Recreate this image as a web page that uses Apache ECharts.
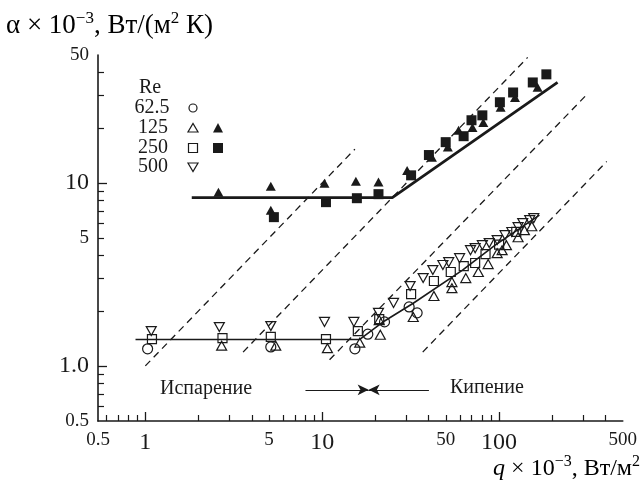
<!DOCTYPE html>
<html>
<head>
<meta charset="utf-8">
<script src="https://cdn.jsdelivr.net/npm/echarts@6/dist/echarts.min.js"></script>
<style>
  html, body { margin: 0; padding: 0; background: #fff; }
  #chart { width: 640px; height: 488px; }
</style>
</head>
<body>
<div id="chart"></div>
<script>
// axes
const xMin = 0.54, xMax = 500;
const yMin = 0.5, yMax = 50;
const xLabelValues = [0.54, 1, 5, 10, 50, 100, 500];
const xLabelTexts = ['0.5', '1', '5', '10', '50', '100', '500'];
const xMajorTicks = [1, 10, 100];
const xMinorTicks = [0.6, 0.7, 0.8, 0.9, 2, 3, 4, 5, 6, 7, 8, 9, 20, 30, 40, 50, 60, 70, 80, 90, 200, 300, 400];
const yLabelValues = [0.5, 1, 5, 10, 50];
const yLabelTexts = ['0.5', '1.0', '5', '10', '50'];
const yMajorTicks = [1, 10];
const yMinorTicks = [0.6, 0.7, 0.8, 0.9, 2, 3, 4, 5, 6, 7, 8, 9, 20, 30, 40];
const bigLabels = ['1', '10', '100', '1.0'];

// measured points  [q, alpha]
const re62Open = [[1.03, 1.24], [5.12, 1.27], [15.3, 1.24], [18.1, 1.49], [22.5, 1.74], [31.0, 2.10], [34.4, 1.95]];
const re125Open = [[2.70, 1.29], [5.46, 1.29], [10.7, 1.25], [16.3, 1.34], [21.0, 1.78], [21.3, 1.48], [32.7, 1.85],
  [42.8, 2.41], [54.1, 2.87], [54.1, 2.66], [64.8, 3.02], [76.3, 3.26], [86.7, 3.60], [97.5, 4.13], [104, 4.29],
  [110, 4.57], [128, 5.05], [139, 5.52], [153, 5.8]];
const re125Filled = [[2.59, 8.9], [5.12, 9.6], [5.12, 7.1], [10.3, 9.96], [15.5, 10.2], [20.8, 10.1], [30.2, 11.7],
  [41.7, 13.8], [51.3, 15.7], [59, 19.4], [70.7, 20.1], [81.4, 21.4], [102, 25.9], [123, 29.3], [165, 33.3]];
const re250Open = [[1.09, 1.40], [2.73, 1.42], [5.12, 1.44], [10.5, 1.40], [15.9, 1.55], [21.0, 1.80], [31.8, 2.47],
  [42.8, 2.91], [53.3, 3.26], [63.1, 3.51], [73.2, 3.65], [83.8, 4.08], [100, 4.6], [125, 5.4]];
const re250Filled = [[5.33, 6.5], [10.5, 7.85], [15.7, 8.25], [20.8, 8.68], [31.8, 11.0], [40.1, 14.2], [49.9, 16.7],
  [63, 18.0], [69.8, 22.0], [80.4, 23.4], [101, 27.6], [120, 31.2], [155, 35.4], [185, 39.2]];
const re500 = [[1.08, 1.55], [2.62, 1.63], [5.12, 1.65], [10.3, 1.74], [15.1, 1.74], [20.8, 1.95], [25.3, 2.21],
  [31.4, 2.73], [37.2, 3.02], [42.2, 3.34], [48.1, 3.56], [51.9, 3.69], [59.8, 3.88], [68.9, 4.29], [73.2, 4.40],
  [80.4, 4.57], [87.9, 4.69], [97.5, 4.87], [108, 5.18], [118, 5.39], [128, 5.73], [136, 6.03], [149, 6.26], [157, 6.42]];

// fitted lines
const upperFit = [[1.83, 8.3], [24.9, 8.3], [214, 35.4]];
const lowerFit = [[0.88, 1.395], [16.3, 1.395], [22.5, 1.76], [32.7, 2.2], [62.1, 3.34], [95, 4.57], [169, 6.67]];
// dashed lines alpha ~ q
const dash1 = [[1.0, 1.0], [15.3, 15.3]];
const dash2 = [[3.57, 1.19], [145, 48.5]];
const dash3 = [[11, 1.08], [306, 29.7]];
const dash4 = [[37, 1.19], [406, 13.1]];
// evaporation / boiling arrows
const arrowY = 0.74;
const arrowMeet = 18.3;
const arrowFrom = [8.04, 40.1];

const ink = '#1a1a1a';
const serif = 'Liberation Serif';

function nearestText(v, vals, texts) {
  let best = 0;
  for (let i = 1; i < vals.length; i++) {
    if (Math.abs(Math.log(vals[i] / v)) < Math.abs(Math.log(vals[best] / v))) best = i;
  }
  return texts[best];
}

const labelRich = {
  b: { fontFamily: serif, fontSize: 24, color: ink },
  s: { fontFamily: serif, fontSize: 19, color: ink }
};

function openScatter(name, data, symbol, size, rotate) {
  return {
    name: name, type: 'scatter', data: data, symbol: symbol, symbolSize: size,
    symbolRotate: rotate || 0,
    itemStyle: { color: 'rgba(0,0,0,0)', borderColor: ink, borderWidth: 1.2, opacity: 1 },
    z: 5
  };
}
function filledScatter(name, data, symbol, size) {
  return {
    name: name, type: 'scatter', data: data, symbol: symbol, symbolSize: size,
    itemStyle: { color: ink, opacity: 1 }, z: 5
  };
}
function dashLine(data) {
  return {
    type: 'line', data: data, symbol: 'none', silent: true,
    lineStyle: { color: ink, width: 1.3, type: [7, 5] }, z: 2
  };
}

const chart = echarts.init(document.getElementById('chart'));

chart.setOption({
  animation: false,
  grid: { left: 98, right: 11, top: 55, bottom: 67 },
  xAxis: [
    {
      type: 'log', min: xMin, max: xMax, position: 'bottom',
      axisLine: { show: true, lineStyle: { color: ink, width: 1.6 } },
      axisTick: { show: true, inside: true, length: 9, customValues: xMajorTicks, lineStyle: { color: ink, width: 1.3 } },
      axisLabel: {
        customValues: xLabelValues, margin: 10, color: ink, verticalAlign: 'top',
        formatter: function (v) {
          const t = nearestText(v, xLabelValues, xLabelTexts);
          return bigLabels.indexOf(t) >= 0 ? '{b|' + t + '}' : '{s|' + t + '}';
        },
        rich: labelRich
      },
      splitLine: { show: false }
    },
    {
      type: 'log', min: xMin, max: xMax, position: 'bottom',
      axisLine: { show: false },
      axisTick: { show: true, inside: true, length: 6, customValues: xMinorTicks, lineStyle: { color: ink, width: 1.2 } },
      axisLabel: { show: false },
      splitLine: { show: false }
    }
  ],
  yAxis: [
    {
      type: 'log', min: yMin, max: yMax, position: 'left',
      axisLine: { show: true, lineStyle: { color: ink, width: 1.6 } },
      axisTick: { show: true, inside: true, length: 9, customValues: yMajorTicks, lineStyle: { color: ink, width: 1.3 } },
      axisLabel: {
        customValues: yLabelValues, margin: 9, color: ink,
        formatter: function (v) {
          const t = nearestText(v, yLabelValues, yLabelTexts);
          return bigLabels.indexOf(t) >= 0 ? '{b|' + t + '}' : '{s|' + t + '}';
        },
        rich: labelRich
      },
      splitLine: { show: false }
    },
    {
      type: 'log', min: yMin, max: yMax, position: 'left',
      axisLine: { show: false },
      axisTick: { show: true, inside: true, length: 6, customValues: yMinorTicks, lineStyle: { color: ink, width: 1.2 } },
      axisLabel: { show: false },
      splitLine: { show: false }
    }
  ],
  series: [
    dashLine(dash1), dashLine(dash2), dashLine(dash3), dashLine(dash4),
    {
      type: 'line', data: upperFit, symbol: 'none', silent: true,
      lineStyle: { color: ink, width: 2.8 }, z: 3
    },
    {
      type: 'line', data: lowerFit, symbol: 'none', silent: true,
      lineStyle: { color: ink, width: 1.6 }, z: 3,
      markLine: {
        silent: true, symbol: ['none', 'arrow'], symbolSize: [8, 11],
        label: { show: false },
        lineStyle: { color: ink, width: 1.2, type: 'solid' },
        data: arrowFrom.map(function (q) {
          return [{ coord: [q, arrowY] }, { coord: [arrowMeet, arrowY] }];
        })
      }
    },
    openScatter('62.5', re62Open, 'circle', 10),
    openScatter('125', re125Open, 'triangle', [10, 9]),
    filledScatter('125 boiling', re125Filled, 'triangle', [10, 9]),
    openScatter('250', re250Open, 'rect', 9),
    filledScatter('250 boiling', re250Filled, 'rect', 10),
    openScatter('500', re500, 'triangle', [10, 9], 180)
  ],
  graphic: [
    {
      type: 'text', left: 6, top: 10,
      style: {
        text: '{a|α × 10}{s|−3}{a|, Вт/(м}{s|2}{a| К)}',
        rich: {
          a: { fontFamily: serif, fontSize: 27, color: ink, lineHeight: 32 },
          s: { fontFamily: serif, fontSize: 17, color: ink, verticalAlign: 'top', lineHeight: 20 }
        }
      }
    },
    {
      type: 'text', right: 0, top: 454,
      style: {
        text: '{i|q}{a| × 10}{s|−3}{a|, Вт/м}{s|2}',
        rich: {
          i: { fontFamily: serif, fontStyle: 'italic', fontSize: 24, color: ink, lineHeight: 29 },
          a: { fontFamily: serif, fontSize: 24, color: ink, lineHeight: 29 },
          s: { fontFamily: serif, fontSize: 16, color: ink, verticalAlign: 'top', lineHeight: 19 }
        }
      }
    },
    { type: 'text', x: 160, y: 389, style: { text: 'Испарение', font: '20px "Liberation Serif"', fill: ink, verticalAlign: 'middle' } },
    { type: 'text', x: 450, y: 388, style: { text: 'Кипение', font: '20px "Liberation Serif"', fill: ink, verticalAlign: 'middle' } },
    // legend block
    { type: 'text', x: 150, y: 88, style: { text: 'Re', font: '20px "Liberation Serif"', fill: ink, align: 'center', verticalAlign: 'middle' } },
    { type: 'text', x: 152, y: 108, style: { text: '62.5', font: '20px "Liberation Serif"', fill: ink, align: 'center', verticalAlign: 'middle' } },
    { type: 'text', x: 153, y: 128, style: { text: '125', font: '20px "Liberation Serif"', fill: ink, align: 'center', verticalAlign: 'middle' } },
    { type: 'text', x: 153, y: 148, style: { text: '250', font: '20px "Liberation Serif"', fill: ink, align: 'center', verticalAlign: 'middle' } },
    { type: 'text', x: 153, y: 167, style: { text: '500', font: '20px "Liberation Serif"', fill: ink, align: 'center', verticalAlign: 'middle' } },
    { type: 'circle', shape: { cx: 193, cy: 108, r: 4 }, style: { fill: 'none', stroke: ink, lineWidth: 1.2 } },
    { type: 'polygon', shape: { points: [[188, 132], [198, 132], [193, 123.5]] }, style: { fill: 'none', stroke: ink, lineWidth: 1.2 } },
    { type: 'polygon', shape: { points: [[213, 132.5], [223, 132.5], [218, 123]] }, style: { fill: ink } },
    { type: 'rect', shape: { x: 188.5, y: 143.5, width: 9, height: 9 }, style: { fill: 'none', stroke: ink, lineWidth: 1.2 } },
    { type: 'rect', shape: { x: 213, y: 143, width: 10, height: 10 }, style: { fill: ink } },
    { type: 'polygon', shape: { points: [[188, 163], [198, 163], [193, 171.5]] }, style: { fill: 'none', stroke: ink, lineWidth: 1.2 } }
  ]
});
</script>
</body>
</html>
